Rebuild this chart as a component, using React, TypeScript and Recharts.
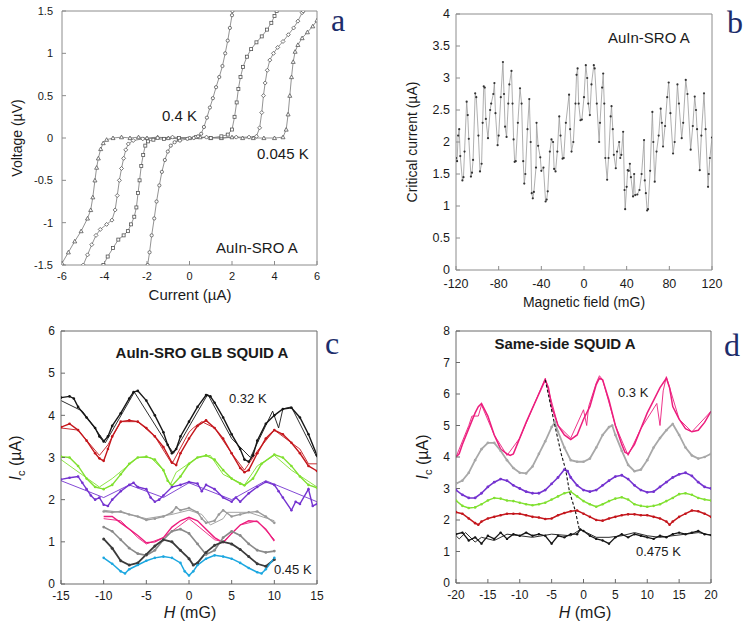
import React from 'react'
import { LineChart, Line, XAxis, YAxis } from 'recharts'

// ---------- panel a : I-V curves ----------
const aXTicks = [-6, -4, -2, 0, 2, 4, 6]
const aYTicks = [-1.5, -1, -0.5, 0, 0.5, 1, 1.5]

const ivTriangle = [
  [-6, -1.48], [-5.7, -1.35], [-5.4, -1.22], [-5.1, -1.1], [-4.8, -0.95], [-4.65, -0.85], [-4.55, -0.7],
  [-4.45, -0.5], [-4.37, -0.35], [-4.29, -0.24], [-4.18, -0.13], [-4.06, -0.06], [-3.9, -0.02], [-3.6, 0],
  [-3.2, 0.01], [-2.8, 0], [-2.4, 0.01], [-2, 0], [-1.5, 0.01], [-1, 0], [-0.5, -0.01], [0, 0], [0.5, 0.01],
  [1, 0], [1.5, 0], [2, 0.01], [2.5, 0], [3, 0], [3.5, 0], [4, 0], [4.4, 0.01], [4.55, 0.1], [4.64, 0.28],
  [4.72, 0.5], [4.8, 0.72], [4.88, 0.9], [4.97, 1.02], [5.1, 1.1], [5.3, 1.18], [5.55, 1.25], [5.8, 1.32], [6, 1.39],
]
const ivDiamond = [
  [-5, -1.5], [-4.8, -1.38], [-4.6, -1.26], [-4.4, -1.15], [-4.2, -1.08], [-3.9, -1.02], [-3.65, -0.97],
  [-3.5, -0.85], [-3.4, -0.68], [-3.3, -0.5], [-3.2, -0.36], [-3.1, -0.24], [-3, -0.14], [-2.88, -0.07],
  [-2.65, -0.03], [-2.2, -0.01], [-1.5, 0], [-0.8, 0.01], [0, 0], [0.8, 0.01], [1.5, 0], [2.2, 0.01], [2.8, 0.01],
  [3.15, 0.02], [3.3, 0.12], [3.4, 0.3], [3.48, 0.5], [3.56, 0.65], [3.66, 0.8], [3.78, 0.92], [3.95, 1],
  [4.15, 1.07], [4.4, 1.14], [4.65, 1.22], [4.9, 1.3], [5.1, 1.38], [5.3, 1.48], [5.35, 1.5],
]
const ivSquare = [
  [-4.05, -1.5], [-3.85, -1.4], [-3.6, -1.3], [-3.35, -1.2], [-3.1, -1.15], [-2.9, -1.1], [-2.75, -1.02],
  [-2.6, -0.93], [-2.5, -0.82], [-2.42, -0.65], [-2.35, -0.5], [-2.27, -0.33], [-2.18, -0.2], [-2.08, -0.09],
  [-1.95, -0.04], [-1.7, -0.02], [-1.2, -0.01], [-0.5, 0], [0.3, 0.01], [1, 0], [1.5, 0.02], [1.8, 0.04],
  [2, 0.1], [2.12, 0.25], [2.22, 0.42], [2.3, 0.58], [2.4, 0.72], [2.52, 0.84], [2.7, 0.96], [2.9, 1.05],
  [3.15, 1.13], [3.4, 1.2], [3.65, 1.28], [3.85, 1.36], [4, 1.44], [4.1, 1.5],
]
const ivCircle = [
  [-1.97, -1.5], [-1.88, -1.35], [-1.78, -1.15], [-1.66, -0.95], [-1.55, -0.75], [-1.42, -0.56], [-1.3, -0.4],
  [-1.16, -0.26], [-1.02, -0.16], [-0.88, -0.09], [-0.7, -0.05], [-0.45, -0.03], [-0.1, -0.01], [0.2, 0],
  [0.4, 0.02], [0.55, 0.05], [0.68, 0.13], [0.82, 0.24], [0.96, 0.36], [1.1, 0.47], [1.25, 0.6], [1.4, 0.72],
  [1.55, 0.85], [1.68, 1], [1.8, 1.15], [1.9, 1.3], [2, 1.45], [2.02, 1.5],
]

// ---------- panel b : critical current vs field ----------
const bXTicks = [-120, -80, -40, 0, 40, 80, 120]
const bYTicks = [0, 0.5, 1, 1.5, 2, 2.5, 3, 3.5, 4]
const icField = [
  [-120, 1.75], [-119, 1.7], [-118, 2.1], [-117, 2.2], [-116, 1.78], [-114, 1.4], [-113, 1.45], [-112, 1.85],
  [-110, 2.63], [-109, 2.42], [-108, 2.05], [-106, 1.46], [-105, 1.52], [-104, 1.72], [-102, 2.76], [-101, 2.7],
  [-99, 2.1], [-97.5, 1.54], [-96, 1.66], [-95, 2.3], [-94, 2.87], [-93, 2.85], [-92, 2.36], [-90, 2.06],
  [-88, 2.5], [-87, 2.6], [-85, 2.75], [-84, 2.92], [-83, 2.45], [-81, 1.95], [-80, 2.1], [-78, 2.7],
  [-76, 3.25], [-75, 2.75], [-74, 2.24], [-72.6, 2.08], [-71, 2.6], [-70, 2.9], [-68, 3.11], [-67, 2.6],
  [-66, 2.04], [-65, 1.69], [-64, 1.7], [-62, 2.3], [-60, 2.84], [-58.5, 2.6], [-57, 1.7], [-56, 1.35],
  [-55, 1.5], [-53, 2.2], [-51.3, 2.67], [-50, 2.0], [-49, 1.2], [-48, 1.12], [-47, 1.22], [-45, 1.6],
  [-44.5, 2.3], [-43, 1.94], [-41, 1.76], [-40, 1.55], [-38, 1.6], [-36, 1.07], [-35, 1.1], [-34, 1.23],
  [-32, 1.85], [-30.5, 2.04], [-29, 2.0], [-28, 1.58], [-26.7, 1.54], [-25, 1.85], [-23.2, 2.4], [-22, 2.1],
  [-20.1, 1.74], [-19, 1.75], [-17, 2.3], [-14, 2.74], [-13, 2.2], [-11.7, 1.85], [-10, 2.0], [-8, 2.6],
  [-7, 3.05], [-6, 3.15], [-5, 2.6], [-3.3, 2.34], [-2, 2.35], [0, 2.7], [1.7, 3.2], [3, 3.0], [4, 2.6],
  [5.5, 2.42], [7, 2.9], [9.2, 3.2], [10, 3.15], [12, 2.6], [14.2, 2.0], [15, 2.3], [17, 2.85], [18, 3.07],
  [19, 2.6], [20, 1.75], [21.7, 1.41], [23, 1.75], [25, 2.4], [25.8, 2.56], [27, 2.2], [28, 1.8], [29.8, 1.59],
  [31, 1.85], [33, 2.0], [34, 1.75], [35, 1.8], [36.7, 2.16], [38, 1.25], [38.6, 0.95], [40, 1.3], [41, 1.56],
  [42, 1.55], [43, 1.66], [44, 1.45], [46, 1.15], [47, 1.5], [48, 1.17], [50, 1.18], [52, 1.25], [54, 1.5],
  [56.3, 2.03], [57, 1.4], [58, 1.2], [59.2, 0.93], [60, 0.95], [62, 1.55], [64.1, 2.47], [65, 2.0],
  [66.3, 1.38], [68, 1.85], [70, 2.1], [71.9, 2.52], [73, 2.3], [74.1, 1.93], [76, 2.25], [78, 2.7],
  [79.4, 2.93], [81, 2.45], [83.5, 1.82], [85, 2.0], [87.6, 2.9], [89, 2.6], [91.6, 2.06], [93, 2.3],
  [95.4, 2.97], [97, 2.75], [100, 1.88], [102, 2.25], [103.8, 2.71], [105, 2.5], [106, 2.2], [108.5, 1.56],
  [110, 2.1], [112.5, 2.76], [114, 2.2], [116.3, 1.3], [117, 1.5], [118, 1.75], [120, 2.07],
]

// ---------- panel c : GLB SQUID ----------
const cXTicks = [-15, -10, -5, 0, 5, 10, 15]
const cYTicks = [0, 1, 2, 3, 4, 5, 6]
const cBlack = [
  [-15, 4.42], [-14, 4.45], [-13.5, 4.4], [-13, 4.2], [-12, 3.95], [-11, 3.7], [-10.5, 3.5], [-10, 3.38],
  [-9.5, 3.5], [-9, 3.75], [-8, 4.05], [-7, 4.4], [-6.5, 4.55], [-6, 4.58], [-5, 4.35], [-4, 4.0], [-3, 3.6],
  [-2.5, 3.3], [-2, 3.1], [-1.5, 3.2], [-1, 3.5], [0, 3.85], [1, 4.2], [2, 4.48], [2.5, 4.45], [3, 4.3],
  [4, 3.95], [5, 3.55], [6, 3.2], [6.5, 2.95], [7, 2.9], [7.5, 3.05], [8, 3.4], [9, 3.8], [10, 4.0],
  [11, 4.15], [12, 4.18], [13, 3.95], [14, 3.55], [15, 3.05],
]
const cBlackB = [
  [-15, 4.35], [-12.5, 4.1], [-9.8, 3.35], [-6.4, 4.55], [-2.5, 3.3], [-1.8, 3.1], [2.2, 4.5], [5, 3.45],
  [7.2, 3.0], [9.8, 4.1], [10.5, 3.7], [11, 4.15], [12, 4.2], [15, 3.0],
]
const cRed = [
  [-15, 3.72], [-14, 3.8], [-13, 3.65], [-12, 3.4], [-11, 3.1], [-10.5, 2.98], [-10, 2.92], [-9.5, 3.2],
  [-9, 3.5], [-8, 3.85], [-7, 3.88], [-6, 3.85], [-5, 3.7], [-4, 3.5], [-3, 3.25], [-2, 2.88], [-1.5, 2.82],
  [-1, 3.1], [0, 3.45], [1, 3.75], [2, 3.88], [3, 3.7], [4, 3.45], [5, 3.1], [6, 2.75], [6.5, 2.65], [7, 2.7],
  [8, 3.1], [9, 3.45], [10, 3.65], [11, 3.55], [12, 3.35], [13, 3.1], [14, 2.8], [15, 2.68],
]
const cRedB = [
  [-15, 3.7], [-13, 3.65], [-10.5, 3.05], [-9.5, 3.3], [-8, 3.85], [-6, 3.85], [-4, 3.5], [-2, 2.85],
  [0, 3.6], [0.5, 3.7], [1.5, 3.85], [3, 3.7], [5, 3.1], [6.5, 2.7], [8, 3.15], [10, 3.65], [12, 3.35],
  [13, 3.2], [14, 2.85], [15, 2.85],
]
const cGreen = [
  [-15, 3.02], [-14, 3.0], [-13, 2.8], [-12, 2.5], [-11, 2.3], [-10, 2.25], [-9, 2.35], [-8, 2.6], [-7, 2.85],
  [-6, 3.0], [-5, 3.02], [-4, 2.95], [-3, 2.7], [-2.5, 2.45], [-2, 2.33], [-1, 2.55], [0, 2.85], [1, 3.0],
  [2, 3.05], [3, 2.95], [4, 2.7], [5, 2.5], [6, 2.38], [6.5, 2.34], [7.5, 2.5], [8.5, 2.85], [10, 3.07],
  [11, 3.0], [12, 2.8], [13, 2.55], [14, 2.35], [15, 2.28],
]
const cGreenB = [
  [-15, 2.95], [-10.5, 2.3], [-9, 2.5], [-6, 3.0], [-4.5, 3.0], [-3, 2.7], [-2.2, 2.35], [-1.5, 2.65],
  [1, 3.0], [2.5, 3.05], [4, 2.6], [5, 2.5], [6.5, 2.35], [8, 2.8], [10, 3.05], [12, 2.7], [15, 2.3],
]
const cPurple = [
  [-15, 2.48], [-14, 2.52], [-13, 2.55], [-12.5, 2.4], [-12, 2.25], [-11.5, 2.1], [-11, 2.0], [-10.5, 2.05],
  [-10, 1.88], [-9.5, 1.85], [-9, 2.0], [-8, 2.2], [-7, 2.35], [-6.5, 2.4], [-6, 2.3], [-5, 2.25], [-4.5, 2.05],
  [-4, 1.95], [-3.5, 2.0], [-3, 2.1], [-2, 2.3], [-1, 2.35], [0, 2.42], [1, 2.38], [1.5, 2.2], [2, 2.35],
  [3, 2.25], [4, 2.05], [5, 1.95], [5.5, 2.05], [6, 1.95], [7, 2.15], [8, 2.3], [9, 2.42], [10, 2.35],
  [10.5, 2.2], [11, 2.05], [12, 1.75], [12.5, 1.95], [13, 1.9], [14, 2.25], [14.5, 1.85], [15, 1.9],
]
const cPurpleB = [[-15, 2.45], [-10, 2.05], [-7, 2.35], [-3, 2.05], [0, 2.4], [5, 2.0], [9, 2.45], [15, 1.95]]
const cGrayTop = [
  [-10, 1.72], [-9, 1.7], [-8, 1.72], [-7, 1.65], [-6, 1.6], [-5, 1.52], [-4, 1.55], [-3, 1.6], [-2, 1.7],
  [-1.5, 1.82], [-1, 1.75], [0, 1.8], [1, 1.7], [1.5, 1.55], [2, 1.45], [3, 1.5], [3.5, 1.65], [4, 1.75],
  [5, 1.6], [6, 1.65], [7, 1.7], [8, 1.72], [9, 1.6], [10, 1.45],
]
const cGrayTopB = [
  [-10, 1.75], [-8, 1.7], [-5, 1.55], [-2, 1.65], [0, 1.75], [1.5, 1.65], [2.5, 1.4], [4, 1.55], [4.5, 1.7],
  [7, 1.7], [10, 1.5],
]
const cPink = [
  [-10, 1.6], [-9, 1.6], [-8, 1.45], [-7, 1.3], [-6, 1.15], [-5, 0.98], [-4, 1.0], [-3, 1.1], [-2, 1.35],
  [-1, 1.5], [0, 1.58], [1, 1.5], [2, 1.3], [3, 1.1], [4, 0.98], [5, 1.2], [6, 1.4], [7, 1.5], [8, 1.48],
  [9, 1.3], [10, 1.02],
]
const cPinkB = [
  [-10, 1.55], [-8, 1.5], [-6, 1.1], [-5, 0.95], [-3, 1.1], [0, 1.55], [3, 1.05], [4, 1.0], [6, 1.4],
  [8, 1.5], [10, 1.05],
]
const cGrayMid = [
  [-10, 1.35], [-9, 1.25], [-8, 1.05], [-7, 0.85], [-6, 0.72], [-5, 0.68], [-4, 0.8], [-3, 1.05], [-2, 1.25],
  [-1, 1.3], [0, 1.2], [1, 0.95], [2, 0.7], [3, 0.8], [4, 1.1], [5, 1.25], [6, 1.15], [7, 0.95], [8, 0.8],
  [9, 0.75], [10, 0.78],
]
const cDark = [
  [-10, 1.07], [-9, 0.85], [-8, 0.55], [-7, 0.45], [-6, 0.5], [-5, 0.7], [-4, 0.9], [-3, 1.05], [-2, 1.0],
  [-1, 0.8], [0, 0.6], [0.5, 0.45], [1, 0.5], [2, 0.75], [3, 0.92], [4, 1.0], [5, 0.95], [6, 0.82], [7, 0.65],
  [8, 0.48], [9, 0.42], [10, 0.58],
]
const cCyan = [
  [-10, 0.62], [-9, 0.48], [-8, 0.3], [-7.5, 0.25], [-7, 0.35], [-6, 0.45], [-5, 0.55], [-4, 0.62], [-3, 0.65],
  [-2, 0.62], [-1, 0.5], [-0.5, 0.3], [0, 0.2], [0.5, 0.3], [1, 0.45], [2, 0.6], [3, 0.68], [4, 0.65],
  [5, 0.6], [6, 0.5], [7, 0.38], [8, 0.28], [8.5, 0.25], [9, 0.35], [10, 0.62],
]

// ---------- panel d : same-side SQUID ----------
const dXTicks = [-20, -15, -10, -5, 0, 5, 10, 15, 20]
const dYTicks = [0, 1, 2, 3, 4, 5, 6, 7, 8]
const dPink = [
  [-20, 4.0], [-19.5, 4.1], [-19, 4.4], [-18, 4.9], [-17, 5.4], [-16.5, 5.6], [-16, 5.7], [-15, 5.3],
  [-14, 4.7], [-13, 4.25], [-12, 4.1], [-11.5, 4.05], [-11, 4.1], [-10, 4.6], [-9, 5.1], [-8, 5.55],
  [-7, 6.0], [-6, 6.45], [-5.5, 6.2], [-5, 5.6], [-4, 5.0], [-3, 4.7], [-2, 4.55], [-1, 4.7], [0, 5.2],
  [1, 5.6], [2, 6.3], [2.5, 6.5], [3, 6.45], [4, 5.8], [5, 5.0], [6, 4.4], [6.5, 4.15], [7, 4.1], [8, 4.4],
  [9, 4.9], [10, 5.4], [11, 5.8], [12, 6.2], [13, 6.5], [13.5, 6.2], [14, 5.6], [15, 5.2], [16, 4.9],
  [17, 4.8], [18, 4.85], [19, 5.1], [20, 5.45],
]
const dPinkB = [
  [-20, 4.0], [-18, 5.0], [-17.5, 5.3], [-16.5, 5.3], [-16, 5.65], [-14, 4.7], [-12, 4.05], [-10, 4.6],
  [-6, 6.5], [-4, 5.0], [-2, 4.6], [0, 5.5], [0.5, 5.0], [0.8, 5.6], [2, 6.35], [2.5, 6.58], [3, 6.45],
  [5, 5.0], [7, 4.05], [9, 4.9], [11.5, 5.7], [12, 5.0], [12.5, 6.1], [13, 6.55], [15, 5.2], [17, 4.8], [20, 5.45],
]
const dGray = [
  [-20, 3.15], [-19, 3.25], [-18, 3.5], [-17, 3.9], [-16, 4.25], [-15, 4.45], [-14, 4.45], [-13, 4.2],
  [-12, 3.9], [-11, 3.65], [-10, 3.5], [-9, 3.48], [-8, 3.7], [-7, 4.1], [-6, 4.5], [-5, 4.95], [-4.5, 5.1],
  [-4, 4.8], [-3, 4.3], [-2, 3.9], [-1, 3.85], [0, 3.85], [1, 3.95], [2, 4.3], [3, 4.7], [4, 4.95], [4.5, 5.0],
  [5, 4.7], [6, 4.2], [7, 3.75], [8, 3.55], [9, 3.6], [10, 3.9], [11, 4.3], [12, 4.6], [13, 4.85], [14, 5.05],
  [15, 4.7], [16, 4.3], [17, 4.05], [18, 3.95], [19, 4.0], [20, 4.1],
]
const dPurple = [
  [-20, 2.95], [-19, 2.8], [-18, 2.7], [-17, 2.7], [-16, 2.85], [-15, 3.05], [-14, 3.2], [-13, 3.3],
  [-12, 3.25], [-11, 3.1], [-10, 3.0], [-9, 2.9], [-8, 2.85], [-7, 2.85], [-6, 2.95], [-5, 3.15], [-4, 3.35],
  [-3, 3.6], [-2.5, 3.55], [-2, 3.35], [-1, 3.1], [0, 2.95], [1, 2.9], [2, 2.95], [3, 3.1], [4, 3.25],
  [5, 3.38], [6, 3.42], [7, 3.3], [8, 3.1], [9, 2.95], [10, 2.88], [11, 2.9], [12, 3.05], [13, 3.2],
  [14, 3.35], [15, 3.45], [16, 3.5], [17, 3.4], [18, 3.2], [19, 3.05], [20, 3.0],
]
const dGreen = [
  [-20, 2.62], [-19, 2.45], [-18, 2.38], [-17, 2.4], [-16, 2.5], [-15, 2.62], [-14, 2.7], [-13, 2.68],
  [-12, 2.62], [-11, 2.6], [-10, 2.55], [-9, 2.5], [-8, 2.47], [-7, 2.5], [-6, 2.55], [-5, 2.65], [-4, 2.75],
  [-3, 2.85], [-2, 2.9], [-1, 2.75], [0, 2.6], [1, 2.5], [2, 2.42], [3, 2.5], [4, 2.6], [5, 2.68], [6, 2.72],
  [7, 2.65], [8, 2.5], [9, 2.45], [10, 2.42], [11, 2.45], [12, 2.5], [13, 2.6], [14, 2.7], [15, 2.82],
  [16, 2.85], [17, 2.8], [18, 2.7], [19, 2.65], [20, 2.62],
]
const dRed = [
  [-20, 2.25], [-19, 2.2], [-18, 2.05], [-17, 1.9], [-16.5, 1.85], [-16, 1.95], [-15, 2.05], [-14, 2.1],
  [-13, 2.15], [-12, 2.2], [-11, 2.2], [-10, 2.2], [-9, 2.15], [-8, 2.1], [-7, 2.08], [-6, 2.03], [-5, 2.05],
  [-4, 2.15], [-3, 2.22], [-2, 2.28], [-1, 2.3], [0, 2.2], [1, 2.1], [2, 2.0], [3, 1.98], [4, 2.05], [5, 2.1],
  [6, 2.15], [7, 2.18], [8, 2.18], [9, 2.15], [10, 2.15], [11, 2.1], [12, 2.05], [13, 1.95], [13.5, 1.85],
  [14, 1.95], [15, 2.1], [16, 2.2], [17, 2.3], [18, 2.28], [19, 2.2], [20, 2.1],
]
const dBlack = [
  [-20, 1.55], [-19, 1.6], [-18, 1.35], [-17, 1.45], [-16, 1.25], [-15, 1.5], [-14, 1.4], [-13, 1.6],
  [-12, 1.4], [-11, 1.55], [-10, 1.5], [-9, 1.6], [-8, 1.5], [-7, 1.55], [-6, 1.5], [-5, 1.25], [-4, 1.5],
  [-3, 1.45], [-2, 1.55], [-1, 1.55], [-0.5, 1.7], [0, 1.65], [1, 1.5], [2, 1.4], [3, 1.35], [4, 1.25],
  [5, 1.45], [6, 1.55], [7, 1.45], [8, 1.55], [9, 1.5], [10, 1.45], [11, 1.4], [12, 1.5], [13, 1.45],
  [14, 1.55], [15, 1.6], [16, 1.55], [17, 1.6], [18, 1.65], [19, 1.55], [20, 1.52],
]
const dBlackB = [
  [-20, 1.5], [-19.5, 1.4], [-18.5, 1.6], [-17, 1.3], [-16, 1.45], [-14, 1.35], [-12, 1.55], [-10, 1.5],
  [-8, 1.45], [-5, 1.55], [-2, 1.5], [-0.5, 1.7], [0.5, 1.6], [2, 1.45], [4, 1.45], [6, 1.5], [8, 1.6],
  [10, 1.5], [12, 1.45], [14, 1.5], [16, 1.55], [18, 1.6], [20, 1.52],
]
const dPeakTrack = [[-6, 6.45], [-4.6, 5.1], [-3.5, 4.1], [-2.8, 3.6], [-2.2, 2.9], [-1.3, 2.3], [-0.6, 1.65]]

const pts = (arr: number[][]) => arr.map(([x, y]) => ({ x, y }))

const FONT = '"Liberation Sans", Arial, Helvetica, sans-serif'
const NAVY = '#1d2d6b'
const C = {
  black: '#161616', red: '#c4161c', green: '#80e030', purple: '#7433d0', gray: '#9a9a9a',
  pink: '#ec1d7d', midGray: '#8a8a8a', dark: '#3b3b3b', cyan: '#1ca7e0', lightGray: '#a8a8a8',
}

const makeDot = (kind: string) => (props: any) => {
  const { cx, cy, index } = props
  const k = `${kind}-${index}`
  if (cx == null || cy == null) return <g key={k} />
  const s = 2.0
  const st = { fill: '#fff', stroke: '#555', strokeWidth: 0.8 }
  if (kind === 'tri') return <polygon key={k} points={`${cx},${cy - s} ${cx - s},${cy + s * 0.8} ${cx + s},${cy + s * 0.8}`} {...st} />
  if (kind === 'dia') return <polygon key={k} points={`${cx},${cy - s} ${cx + s},${cy} ${cx},${cy + s} ${cx - s},${cy}`} {...st} />
  if (kind === 'sq') return <rect key={k} x={cx - s * 0.75} y={cy - s * 0.75} width={s * 1.5} height={s * 1.5} {...st} />
  return <circle key={k} cx={cx} cy={cy} r={s * 0.8} {...st} />
}

function T({ x, y, size = 14, bold = false, center = false, rotate = false, children, color = '#1a1a1a', family = FONT }: any) {
  const tf = rotate ? 'translate(-50%,-50%) rotate(-90deg)' : center ? 'translate(-50%,-50%)' : 'translateY(-50%)'
  return (
    <div style={{ position: 'absolute', left: x, top: y, transform: tf, fontSize: size, fontWeight: bold ? 700 : 400, fontFamily: family, color, whiteSpace: 'nowrap', lineHeight: 1 }}>
      {children}
    </div>
  )
}

function Letter({ x, y, children }: any) {
  return (
    <div style={{ position: 'absolute', left: x, top: y, fontSize: 32, lineHeight: '36px', fontFamily: '"Liberation Serif", serif', color: NAVY }}>
      {children}
    </div>
  )
}

function Ic() {
  return (
    <span><i>I</i><sub style={{ fontSize: '0.7em' }}>c</sub> (µA)</span>
  )
}

export default function App() {
  const frameA = '#8c8c8c'
  const frameC = '#6a6a6a'
  const tk = (size: number) => ({ fontSize: size, fill: '#1a1a1a', fontFamily: FONT })
  const ax = (stroke: string) => ({ axisLine: { stroke }, tickLine: { stroke } })

  return (
    <div style={{ position: 'absolute', left: 0, top: 0, width: 745, height: 630, background: '#fff', overflow: 'hidden' }}>
      {/* panel a */}
      <div style={{ position: 'absolute', left: 0, top: 0 }}>
        <LineChart width={330} height={310} margin={{ top: 10, right: 12, bottom: 0, left: 0 }}>
          <XAxis type="number" dataKey="x" domain={[-6, 6]} ticks={aXTicks} interval={0} allowDataOverflow height={45} tickSize={-4} tickMargin={11} tick={tk(11)} {...ax(frameA)} />
          <XAxis xAxisId="top" orientation="top" type="number" domain={[-6, 6]} ticks={aXTicks} interval={0} height={1} tick={false} tickSize={-4} {...ax(frameA)} />
          <YAxis type="number" domain={[-1.5, 1.5]} ticks={aYTicks} interval={0} allowDataOverflow width={62} tickSize={-4} tickMargin={13} tick={tk(11)} {...ax(frameA)} />
          <YAxis yAxisId="right" orientation="right" type="number" domain={[-1.5, 1.5]} ticks={aYTicks} interval={0} width={1} tick={false} tickSize={-4} {...ax(frameA)} />
          <Line data={pts(ivTriangle)} dataKey="y" stroke="#777" strokeWidth={0.8} dot={makeDot('tri')} isAnimationActive={false} />
          <Line data={pts(ivDiamond)} dataKey="y" stroke="#777" strokeWidth={0.8} dot={makeDot('dia')} isAnimationActive={false} />
          <Line data={pts(ivSquare)} dataKey="y" stroke="#777" strokeWidth={0.8} dot={makeDot('sq')} isAnimationActive={false} />
          <Line data={pts(ivCircle)} dataKey="y" stroke="#777" strokeWidth={0.8} dot={makeDot('circ')} isAnimationActive={false} />
        </LineChart>
      </div>
      <T x={17} y={138} size={14} rotate>Voltage (µV)</T>
      <T x={190} y={294} size={15} center>Current (µA)</T>
      <T x={162} y={115} size={15}>0.4 K</T>
      <T x={257} y={153} size={15}>0.045 K</T>
      <T x={216} y={247} size={15}>AuIn-SRO A</T>
      <Letter x={331} y={2}>a</Letter>

      {/* panel b */}
      <div style={{ position: 'absolute', left: 370, top: 0 }}>
        <LineChart width={375} height={310} margin={{ top: 13, right: 32, bottom: 0, left: 0 }}>
          <XAxis type="number" dataKey="x" domain={[-120, 120]} ticks={bXTicks} interval={0} allowDataOverflow height={40} tickSize={-4} tickMargin={13} tick={tk(12.5)} {...ax(frameA)} />
          <XAxis xAxisId="top" orientation="top" type="number" domain={[-120, 120]} ticks={bXTicks} interval={0} height={1} tick={false} tickSize={-4} {...ax(frameA)} />
          <YAxis type="number" domain={[0, 4]} ticks={bYTicks} interval={0} allowDataOverflow width={86} tickSize={-4} tickMargin={10} tick={tk(12.5)} {...ax(frameA)} />
          <YAxis yAxisId="right" orientation="right" type="number" domain={[0, 4]} ticks={bYTicks} interval={0} width={1} tick={false} tickSize={-4} {...ax(frameA)} />
          <Line data={pts(icField)} dataKey="y" stroke="#9a9a9a" strokeWidth={0.8} dot={{ r: 1.1, fill: '#333', stroke: 'none' }} isAnimationActive={false} />
        </LineChart>
      </div>
      <T x={412} y={142} size={14} rotate>Critical current (µA)</T>
      <T x={584} y={302} size={14} center>Magnetic field (mG)</T>
      <T x={608} y={37} size={15}>AuIn-SRO A</T>
      <Letter x={727} y={4}>b</Letter>

      {/* panel c */}
      <div style={{ position: 'absolute', left: 0, top: 310 }}>
        <LineChart width={340} height={320} margin={{ top: 20, right: 22, bottom: 0, left: 0 }}>
          <XAxis type="number" dataKey="x" domain={[-15, 15]} ticks={cXTicks} interval={0} allowDataOverflow height={46} tickSize={-4} tickMargin={11} tick={tk(12)} {...ax(frameC)} />
          <XAxis xAxisId="top" orientation="top" type="number" domain={[-15, 15]} ticks={cXTicks} interval={0} height={1} tick={false} tickSize={-4} {...ax(frameC)} />
          <YAxis type="number" domain={[0, 6]} ticks={cYTicks} interval={0} allowDataOverflow width={61} tickSize={-4} tickMargin={10} tick={tk(12)} {...ax(frameC)} />
          <YAxis yAxisId="right" orientation="right" type="number" domain={[0, 6]} ticks={cYTicks} interval={0} width={1} tick={false} tickSize={-4} {...ax(frameC)} />
          <Line data={pts(cBlackB)} dataKey="y" stroke={C.black} strokeWidth={0.9} dot={false} isAnimationActive={false} />
          <Line data={pts(cBlack)} dataKey="y" stroke={C.black} strokeWidth={1.4} dot={{ r: 1.3, fill: C.black, stroke: 'none' }} isAnimationActive={false} />
          <Line data={pts(cRedB)} dataKey="y" stroke={C.red} strokeWidth={0.9} dot={false} isAnimationActive={false} />
          <Line data={pts(cRed)} dataKey="y" stroke={C.red} strokeWidth={1.4} dot={{ r: 1.3, fill: C.red, stroke: 'none' }} isAnimationActive={false} />
          <Line data={pts(cGreenB)} dataKey="y" stroke={C.green} strokeWidth={0.9} dot={false} isAnimationActive={false} />
          <Line data={pts(cGreen)} dataKey="y" stroke={C.green} strokeWidth={1.4} dot={{ r: 1.3, fill: C.green, stroke: 'none' }} isAnimationActive={false} />
          <Line data={pts(cPurpleB)} dataKey="y" stroke={C.purple} strokeWidth={0.9} dot={false} isAnimationActive={false} />
          <Line data={pts(cPurple)} dataKey="y" stroke={C.purple} strokeWidth={1.4} dot={{ r: 1.3, fill: C.purple, stroke: 'none' }} isAnimationActive={false} />
          <Line data={pts(cGrayTopB)} dataKey="y" stroke={C.gray} strokeWidth={0.9} dot={false} isAnimationActive={false} />
          <Line data={pts(cGrayTop)} dataKey="y" stroke={C.gray} strokeWidth={1.4} dot={{ r: 1.3, fill: C.gray, stroke: 'none' }} isAnimationActive={false} />
          <Line data={pts(cPinkB)} dataKey="y" stroke={C.pink} strokeWidth={0.9} dot={false} isAnimationActive={false} />
          <Line data={pts(cPink)} dataKey="y" stroke={C.pink} strokeWidth={1.4} dot={false} isAnimationActive={false} />
          <Line data={pts(cGrayMid)} dataKey="y" stroke={C.midGray} strokeWidth={1.6} dot={{ r: 1.4, fill: C.midGray, stroke: 'none' }} isAnimationActive={false} />
          <Line data={pts(cDark)} dataKey="y" stroke={C.dark} strokeWidth={1.8} dot={{ r: 1.5, fill: C.dark, stroke: 'none' }} isAnimationActive={false} />
          <Line data={pts(cCyan)} dataKey="y" stroke={C.cyan} strokeWidth={1.5} dot={{ r: 1.3, fill: C.cyan, stroke: 'none' }} isAnimationActive={false} />
        </LineChart>
      </div>
      <T x={18} y={458} size={16} rotate><Ic /></T>
      <T x={190} y={613} size={16} center><i>H</i> (mG)</T>
      <T x={202} y={352} size={15} bold center>AuIn-SRO GLB SQUID A</T>
      <T x={229} y={398} size={13}>0.32 K</T>
      <T x={274} y={569} size={13}>0.45 K</T>
      <Letter x={325} y={325}>c</Letter>

      {/* panel d */}
      <div style={{ position: 'absolute', left: 370, top: 310 }}>
        <LineChart width={375} height={320} margin={{ top: 20, right: 33, bottom: 0, left: 0 }}>
          <XAxis type="number" dataKey="x" domain={[-20, 20]} ticks={dXTicks} interval={0} allowDataOverflow height={47} tickSize={-4} tickMargin={11} tick={tk(12)} {...ax(frameC)} />
          <XAxis xAxisId="top" orientation="top" type="number" domain={[-20, 20]} ticks={dXTicks} interval={0} height={1} tick={false} tickSize={-4} {...ax(frameC)} />
          <YAxis type="number" domain={[0, 8]} ticks={dYTicks} interval={0} allowDataOverflow width={86} tickSize={-4} tickMargin={10} tick={tk(12)} {...ax(frameC)} />
          <YAxis yAxisId="right" orientation="right" type="number" domain={[0, 8]} ticks={dYTicks} interval={0} width={1} tick={false} tickSize={-4} {...ax(frameC)} />
          <Line data={pts(dPinkB)} dataKey="y" stroke={C.pink} strokeWidth={0.9} dot={false} isAnimationActive={false} />
          <Line data={pts(dPink)} dataKey="y" stroke={C.pink} strokeWidth={1.5} dot={false} isAnimationActive={false} />
          <Line data={pts(dGray)} dataKey="y" stroke={C.lightGray} strokeWidth={1.8} dot={{ r: 1.3, fill: C.lightGray, stroke: 'none' }} isAnimationActive={false} />
          <Line data={pts(dPurple)} dataKey="y" stroke={C.purple} strokeWidth={1.6} dot={{ r: 1.4, fill: C.purple, stroke: 'none' }} isAnimationActive={false} />
          <Line data={pts(dGreen)} dataKey="y" stroke={C.green} strokeWidth={1.4} dot={{ r: 1.3, fill: C.green, stroke: 'none' }} isAnimationActive={false} />
          <Line data={pts(dRed)} dataKey="y" stroke={C.red} strokeWidth={1.5} dot={{ r: 1.3, fill: C.red, stroke: 'none' }} isAnimationActive={false} />
          <Line data={pts(dBlackB)} dataKey="y" stroke={C.black} strokeWidth={0.9} dot={false} isAnimationActive={false} />
          <Line data={pts(dBlack)} dataKey="y" stroke={C.black} strokeWidth={1.3} dot={{ r: 1.2, fill: C.black, stroke: 'none' }} isAnimationActive={false} />
          <Line data={pts(dPeakTrack)} dataKey="y" stroke="#111" strokeWidth={1.1} strokeDasharray="3 2" dot={false} isAnimationActive={false} />
        </LineChart>
      </div>
      <T x={425} y={457} size={16} rotate><Ic /></T>
      <T x={585} y={613} size={16} center><i>H</i> (mG)</T>
      <T x={565} y={343} size={15} bold center>Same-side SQUID A</T>
      <T x={618} y={392} size={13}>0.3 K</T>
      <T x={636} y={551} size={13}>0.475 K</T>
      <Letter x={724} y={327}>d</Letter>
    </div>
  )
}
